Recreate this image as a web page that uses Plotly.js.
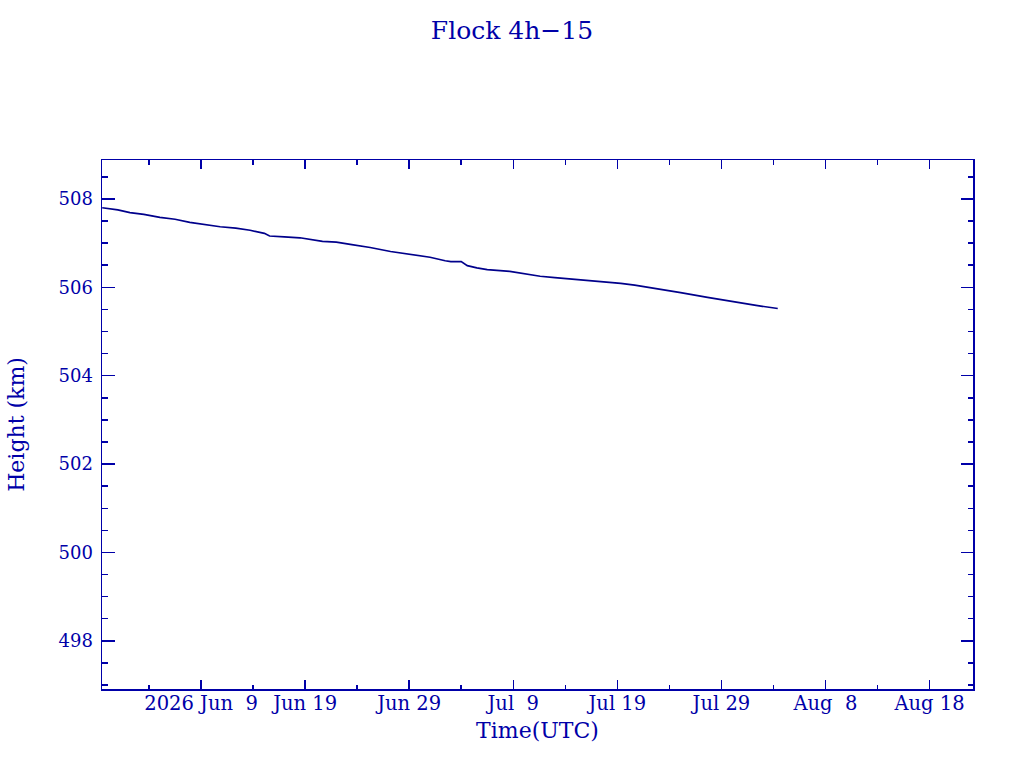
<!DOCTYPE html>
<html>
<head>
<meta charset="utf-8">
<script src="https://cdn.plot.ly/plotly-3.0.1.min.js"></script>
<style>
  html, body { margin: 0; padding: 0; background: #fff; }
  #chart { width: 1024px; height: 768px; }
</style>
</head>
<body>
<div id="chart"></div>
<script>
// lectura aproximada de la curva de altura
const times = [
  '2026-05-30 12:00', '2026-06-01 00:00', '2026-06-02 04:00', '2026-06-03 12:00',
  '2026-06-05 01:00', '2026-06-06 12:00', '2026-06-07 22:00', '2026-06-09 10:00',
  '2026-06-10 20:00', '2026-06-12 08:00', '2026-06-13 17:00', '2026-06-15 02:00',
  '2026-06-15 14:00', '2026-06-17 00:00', '2026-06-18 12:00', '2026-06-20 16:00',
  '2026-06-22 00:00', '2026-06-23 08:00', '2026-06-25 06:00', '2026-06-27 05:00',
  '2026-06-29 03:00', '2026-07-01 00:00', '2026-07-02 11:00', '2026-07-03 00:00',
  '2026-07-04 00:00', '2026-07-04 14:00', '2026-07-05 12:00', '2026-07-06 12:00',
  '2026-07-08 16:00', '2026-07-10 02:00', '2026-07-11 14:00', '2026-07-13 00:00',
  '2026-07-14 12:00', '2026-07-17 10:00', '2026-07-19 08:00', '2026-07-20 16:00',
  '2026-07-22 20:00', '2026-07-25 02:00', '2026-07-27 16:00', '2026-07-29 22:00',
  '2026-08-01 08:00', '2026-08-03 10:00'
];
const heights = [
  507.80, 507.75, 507.69, 507.65,
  507.58, 507.54, 507.47, 507.42,
  507.37, 507.34, 507.29, 507.22,
  507.16, 507.14, 507.12, 507.04,
  507.02, 506.97, 506.90, 506.81,
  506.74, 506.68, 506.60, 506.58,
  506.58, 506.49, 506.44, 506.40,
  506.36, 506.31, 506.25, 506.22,
  506.19, 506.13, 506.09, 506.05,
  505.97, 505.88, 505.77, 505.68,
  505.59, 505.52
];

const tickVals = ['2026-06-09', '2026-06-19', '2026-06-29', '2026-07-09',
  '2026-07-19', '2026-07-29', '2026-08-08', '2026-08-18'];
const tickText = ['2026 Jun\u00a0\u00a09', 'Jun 19', 'Jun 29', 'Jul\u00a0\u00a09',
  'Jul 19', 'Jul 29', 'Aug\u00a0\u00a08', 'Aug 18'];
const minorTickVals = ['2026-06-04', '2026-06-14', '2026-06-24', '2026-07-04',
  '2026-07-14', '2026-07-24', '2026-08-03', '2026-08-13'];
const yTickVals = [498, 500, 502, 504, 506, 508];
const yMinorVals = [497, 497.5, 498.5, 499, 499.5, 500.5, 501, 501.5, 502.5, 503, 503.5,
  504.5, 505, 505.5, 506.5, 507, 507.5, 508.5];

const X_RANGE = ['2026-05-30 11:30', '2026-08-22 04:20'];
const Y_RANGE = [496.91, 508.88];

const azul = '#0000a8';
const fuente = 'DejaVu Serif';

// eje base, marcas hacia dentro y repetidas en el lado opuesto
function tickAxis(extra) {
  return Object.assign({
    ticks: 'inside',
    tickcolor: azul,
    tickwidth: 1.5,
    showline: true,
    linecolor: azul,
    linewidth: 1.5,
    mirror: 'ticks',
    showgrid: false,
    zeroline: false,
    automargin: false,
    fixedrange: true
  }, extra);
}

Plotly.newPlot('chart', [{
  x: times,
  y: heights,
  type: 'scatter',
  mode: 'lines',
  line: { color: '#00008b', width: 1.7 },
  hoverinfo: 'skip'
}, {
  // misma serie, invisible, para que existan los ejes de marcas menores
  x: times,
  y: heights,
  xaxis: 'x2',
  yaxis: 'y2',
  type: 'scatter',
  mode: 'lines',
  line: { width: 0 },
  opacity: 0,
  hoverinfo: 'skip'
}], {
  width: 1024,
  height: 768,
  showlegend: false,
  paper_bgcolor: '#ffffff',
  plot_bgcolor: '#ffffff',
  margin: { l: 102, r: 51, t: 160, b: 79 },
  font: { family: fuente, color: azul, size: 18 },
  title: {
    text: 'Flock 4h\u221215',
    font: { family: fuente, size: 25, color: azul },
    x: 0.5, xanchor: 'center',
    y: 1 - 30 / 768, yanchor: 'middle'
  },
  xaxis: tickAxis({
    type: 'date',
    range: X_RANGE,
    tickmode: 'array',
    tickvals: tickVals,
    ticktext: tickText,
    ticklen: 9,
    tickfont: { family: fuente, size: 19.5, color: azul },
    ticklabelstandoff: -4,
    title: { text: 'Time(UTC)', font: { family: fuente, size: 22, color: azul }, standoff: 8 }
  }),
  xaxis2: tickAxis({
    type: 'date',
    overlaying: 'x',
    anchor: 'y',
    side: 'bottom',
    range: X_RANGE,
    tickmode: 'array',
    tickvals: minorTickVals,
    ticklen: 4.5,
    showline: false,
    showticklabels: false
  }),
  yaxis: tickAxis({
    range: Y_RANGE,
    tickmode: 'array',
    tickvals: yTickVals,
    ticklen: 12.5,
    tickfont: { family: fuente, size: 18, color: azul },
    ticklabelstandoff: 4,
    title: { text: 'Height (km)', font: { family: fuente, size: 22, color: azul }, standoff: 28 }
  }),
  yaxis2: tickAxis({
    overlaying: 'y',
    anchor: 'x',
    side: 'left',
    range: Y_RANGE,
    tickmode: 'array',
    tickvals: yMinorVals,
    ticklen: 5.5,
    showline: false,
    showticklabels: false
  })
}, { staticPlot: true, displayModeBar: false });
</script>
</body>
</html>
